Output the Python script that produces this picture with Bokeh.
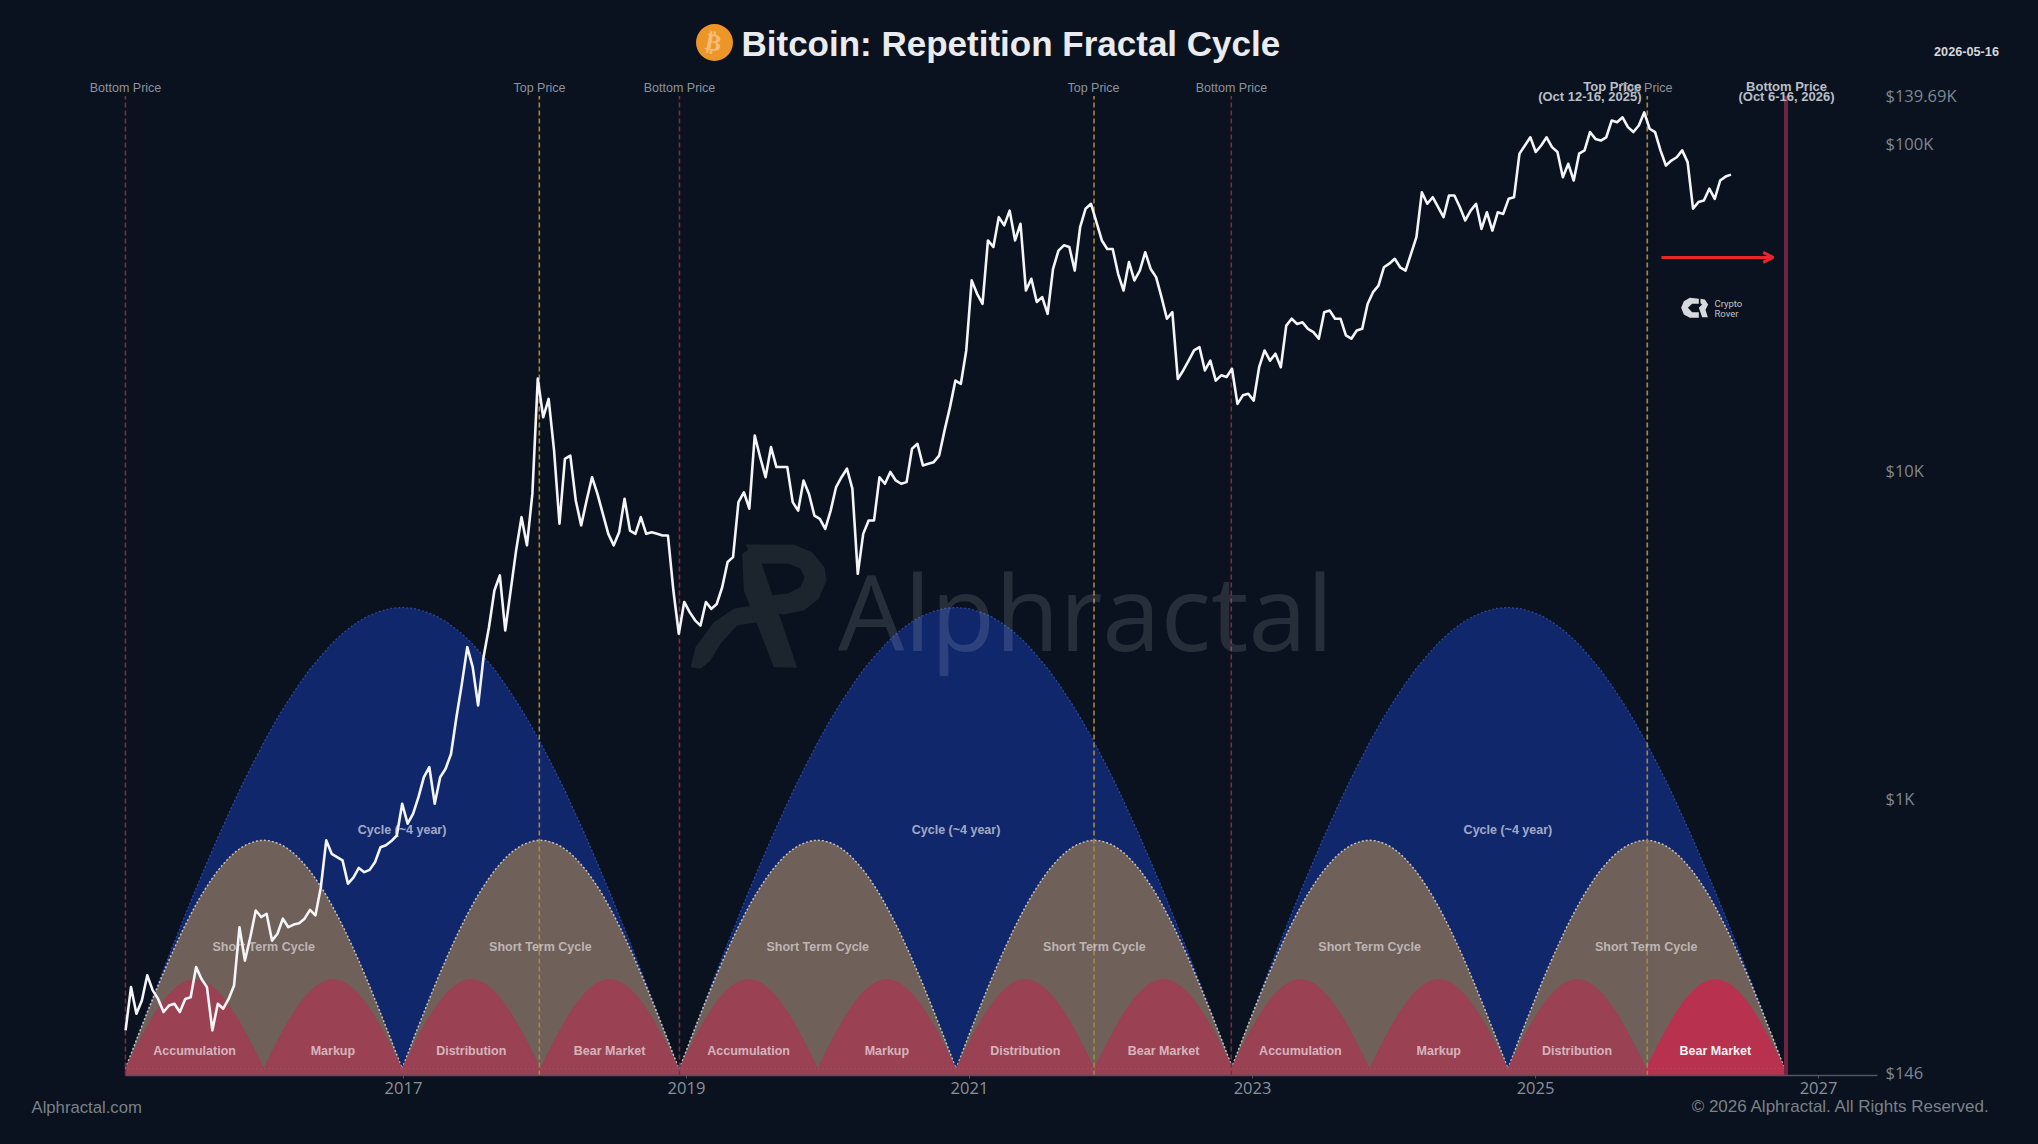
import numpy as np
from bokeh.plotting import figure
from bokeh.models import Range1d, LinearScale, FixedTicker, Label, Arrow, OpenHead, PolyAnnotation
from bokeh.core.properties import value
from bokeh.embed import file_html
from bokeh.resources import INLINE

# ---------- data ----------
year_ticks = [2017, 2019, 2021, 2023, 2025, 2027]
price_ticks = [146, 1000, 10000, 100000, 139690]
price_tick_labels = ["$146", "$1K", "$10K", "$100K", "$139.69K"]

bottom_years = [2015.035, 2018.95, 2022.85]
top_years = [2017.96, 2021.88, 2025.79]
final_bottom_year = 2026.77
cycle_starts = [2015.035, 2018.95, 2022.85]
cycle_length = 3.91
short_height = 0.495
phase_height = 0.193
phase_names = ["Accumulation", "Markup", "Distribution", "Bear Market"]

# rising half of a cycle dome, as a share of its height
dome_half_profile = [0, .065, .131, .195, .259, .321, .383, .442, .5, .555, .609, .659, .707,
                     .752, .793, .831, .866, .896, .924, .947, .966, .981, .991, .998, 1]

# BTC price, log10 of USD, one reading every 14 days from mid January 2015
btc_start_year = 2015.036
btc_log10_2015_16 = [
    2.292, 2.424, 2.343, 2.383, 2.460, 2.414, 2.388, 2.348, 2.368, 2.373, 2.348, 2.388, 2.393, 2.485,
    2.449, 2.424, 2.292, 2.373, 2.358, 2.388, 2.429, 2.607, 2.505, 2.577, 2.658, 2.638, 2.648, 2.566,
    2.587, 2.633, 2.607, 2.615, 2.619, 2.633, 2.660, 2.643, 2.729, 2.872, 2.831, 2.821, 2.811, 2.740,
    2.758, 2.788, 2.775, 2.782, 2.806, 2.851, 2.857, 2.870, 2.887, 2.984, 2.923, 2.953]
btc_log10_2017_18 = [
    3.004, 3.065, 3.096, 2.984, 3.065, 3.091, 3.136, 3.248, 3.350, 3.462, 3.401, 3.284, 3.432, 3.523,
    3.635, 3.681, 3.513, 3.635, 3.757, 3.859, 3.773, 3.930, 4.282, 4.164, 4.220, 4.063, 3.839, 4.037,
    4.047, 3.910, 3.834, 3.910, 3.981, 3.930, 3.869, 3.808, 3.773, 3.813, 3.915, 3.818, 3.808, 3.859,
    3.808, 3.813, 3.808, 3.803, 3.803, 3.635, 3.503, 3.600, 3.569, 3.544, 3.528]
btc_log10_2019_21 = [
    3.600, 3.579, 3.594, 3.645, 3.722, 3.737, 3.905, 3.935, 3.885, 4.108, 4.042, 3.981, 4.073, 4.012,
    4.012, 4.012, 3.905, 3.879, 3.971, 3.930, 3.864, 3.854, 3.823, 3.879, 3.951, 3.981, 4.007, 3.946,
    3.686, 3.808, 3.849, 3.849, 3.981, 3.961, 3.997, 3.971, 3.961, 3.966, 4.068, 4.083, 4.017, 4.022,
    4.027, 4.047, 4.124, 4.195, 4.276, 4.266, 4.368, 4.582, 4.541, 4.510, 4.704, 4.684, 4.775, 4.750,
    4.795, 4.704, 4.755, 4.551, 4.587, 4.516, 4.531, 4.480, 4.617, 4.673, 4.689, 4.684, 4.612, 4.745,
    4.801]
btc_log10_2022_23 = [
    4.816, 4.760, 4.704, 4.678, 4.678, 4.602, 4.551, 4.638, 4.582, 4.612, 4.668, 4.617, 4.592, 4.531,
    4.465, 4.485, 4.281, 4.307, 4.337, 4.368, 4.378, 4.307, 4.337, 4.276, 4.292, 4.287, 4.312, 4.205,
    4.231, 4.236, 4.215, 4.317, 4.368, 4.337, 4.358, 4.317, 4.444, 4.465, 4.449, 4.454, 4.434, 4.424,
    4.404, 4.485, 4.490, 4.465, 4.465, 4.414, 4.404, 4.429, 4.434, 4.510, 4.546]
btc_log10_2024_26 = [
    4.566, 4.622, 4.633, 4.648, 4.622, 4.612, 4.663, 4.714, 4.851, 4.816, 4.836, 4.806, 4.775, 4.841,
    4.841, 4.806, 4.765, 4.795, 4.816, 4.739, 4.790, 4.734, 4.790, 4.785, 4.831, 4.836, 4.969, 4.994,
    5.019, 4.974, 4.994, 5.019, 4.989, 4.974, 4.897, 4.938, 4.887, 4.969, 4.979, 5.035, 5.014, 5.009,
    5.019, 5.070, 5.065, 5.080, 5.050, 5.035, 5.055, 5.095, 5.045, 5.035, 4.979, 4.933, 4.948, 4.958,
    4.979, 4.943, 4.801, 4.821, 4.826, 4.862, 4.831, 4.887, 4.899, 4.905]

# ---------- derived ----------
btc_log10 = btc_log10_2015_16 + btc_log10_2017_18 + btc_log10_2019_21 + btc_log10_2022_23 + btc_log10_2024_26
btc_price = 10 ** np.array(btc_log10)
btc_year = btc_start_year + np.arange(len(btc_price)) * 14 / 365.25

profile = np.array(dome_half_profile + dome_half_profile[-2::-1])
phase = np.linspace(0, 1, len(profile))

def dome(start, length, height):
    return list(start + phase * length), list(profile * height)

BG = "#09121e"
p = figure(width=2038, height=1144, output_backend="svg", toolbar_location=None, tools="",
           x_range=Range1d(2014.152, 2027.417), y_range=Range1d(142.6, 273300),
           y_axis_type="log", y_axis_location="right",
           min_border_left=0, min_border_right=161, min_border_top=0, min_border_bottom=69,
           background_fill_color=None, border_fill_color=None, outline_line_color=None,
           styles={"background-color": BG})
p.extra_y_ranges = {"dome": Range1d(-0.0152, 2.3167)}
p.extra_y_scales = {"dome": LinearScale()}
p.grid.visible = False

AX = "Open Sans"
p.xaxis.ticker = FixedTicker(ticks=year_ticks)
p.xaxis.bounds = (cycle_starts[0], 2027.417)
p.xaxis.axis_line_color = "#4e5661"
p.xaxis.axis_line_width = 1.5
p.xaxis.major_tick_line_color = "#4e5661"
p.xaxis.major_tick_in = 0
p.xaxis.major_tick_out = 3
p.xaxis.minor_tick_line_color = None
p.xaxis.major_label_text_font = AX
p.xaxis.major_label_text_font_size = "16.5px"
p.xaxis.major_label_text_color = "#8b9199"
p.xaxis.major_label_standoff = 3

p.yaxis.ticker = FixedTicker(ticks=price_ticks)
p.yaxis.major_label_overrides = dict(zip(price_ticks, price_tick_labels))
p.yaxis.axis_line_color = None
p.yaxis.major_tick_line_color = None
p.yaxis.major_tick_in = 0
p.yaxis.major_tick_out = 0
p.yaxis.minor_tick_line_color = None
p.yaxis.major_label_text_font = AX
p.yaxis.major_label_text_font_size = "16.5px"
p.yaxis.major_label_text_color = "#7f8690"
p.yaxis.major_label_standoff = 8

# cycle domes
big = [dome(s, cycle_length, 1.0) for s in cycle_starts]
p.patches([b[0] for b in big], [b[1] for b in big], y_range_name="dome",
          fill_color="#11276c", line_color="#2c4a9c", line_width=1.2, line_dash="2 2")

shorts = [dome(s + i * cycle_length / 2, cycle_length / 2, short_height)
          for s in cycle_starts for i in range(2)]
p.patches([b[0] for b in shorts], [b[1] for b in shorts], y_range_name="dome",
          fill_color="#6f605a", line_color="#c8c0b8", line_width=1.5, line_dash="2 2")

small_starts = [s + i * cycle_length / 4 for s in cycle_starts for i in range(4)]
small = [dome(s, cycle_length / 4, phase_height) for s in small_starts]
small_colors = ["#9a4154"] * 11 + ["#b8324f"]
p.patches([b[0] for b in small], [b[1] for b in small], y_range_name="dome",
          fill_color=small_colors, line_color=small_colors, line_width=0.5)

# foot strip below the domes
p.quad(left=[cycle_starts[0], small_starts[-1]], right=[small_starts[-1], small_starts[-1] + cycle_length / 4],
       bottom=[-0.0152, -0.0152], top=[0, 0], y_range_name="dome",
       fill_color=["#9a4154", "#b8324f"], line_color=None)

# vertical markers
low = 142.6
high = price_ticks[-1]
p.segment(bottom_years, [low] * 3, bottom_years, [high] * 3, line_color="#7d2a45", line_width=1.6, line_dash="5 3")
p.segment(top_years, [low] * 3, top_years, [high] * 3, line_color="#a9873f", line_width=1.6, line_dash="5 3")
p.segment([final_bottom_year], [low], [final_bottom_year], [high], line_color="#6f2442", line_width=4)

# texts on the domes
BOLD = value("Liberation Sans")
p.text(x=[s + cycle_length / 2 for s in cycle_starts], y=[0.517] * 3, text=["Cycle (~4 year)"] * 3,
       y_range_name="dome", text_font=BOLD, text_font_style="bold", text_font_size="12.5px",
       text_color="#ffffff", text_alpha=0.62, text_align="center", text_baseline="middle")
short_centres = [s + (i + 0.5) * cycle_length / 2 for s in cycle_starts for i in range(2)]
p.text(x=short_centres, y=[0.264] * 6, text=["Short Term Cycle"] * 6,
       y_range_name="dome", text_font=BOLD, text_font_style="bold", text_font_size="12.5px",
       text_color="#ffffff", text_alpha=0.55, text_align="center", text_baseline="middle")
phase_centres = [s + cycle_length / 8 for s in small_starts]
p.text(x=phase_centres, y=[0.039] * 12, text=phase_names * 3,
       y_range_name="dome", text_font=BOLD, text_font_style="bold", text_font_size="12.5px",
       text_color="#ffffff", text_alpha=[0.62] * 11 + [0.95], text_align="center", text_baseline="middle")

# watermark
p.text(x=[2020.07], y=[3750], text=["Alphractal"], text_font=value("Open Sans"), text_font_size="105px",
       text_color="#ffffff", text_alpha=0.12, text_align="left", text_baseline="middle")

def shape(zoom_pts, ox, oy, color):
    xs = [ox + a / 3 for a, b in zoom_pts]
    ys = [1075 - (oy + b / 3) for a, b in zoom_pts]
    p.add_layout(PolyAnnotation(xs=xs, ys=ys, xs_units="screen", ys_units="screen", fill_color=color,
                                fill_alpha=1, line_color=None, level="underlay"))

LOGO = "#1c242e"
shape([(195, 42), (340, 42), (395, 65), (432, 110), (438, 150), (415, 205), (370, 240), (310, 252), (280, 248),
       (262, 195), (320, 190), (360, 170), (372, 140), (360, 115), (325, 100), (225, 100)], 680, 530, LOGO)
shape([(185, 70), (225, 45), (350, 412), (280, 410), (190, 180)], 680, 530, LOGO)
shape([(30, 410), (45, 350), (100, 275), (160, 235), (215, 225), (232, 275), (170, 285), (120, 340), (90, 390),
       (60, 415)], 680, 530, LOGO)

CR = "#d7d9dc"
shape([(985, 595), (958, 592), (940, 602), (932, 622), (940, 642), (958, 652), (985, 652), (985, 635), (965, 635),
       (952, 622), (965, 610), (985, 610)], 1370, 100, CR)
shape([(990, 595), (1003, 597), (1013, 612), (1005, 628), (1012, 650), (995, 650), (985, 622), (995, 612),
       (990, 608)], 1370, 100, CR)

# price
p.line(btc_year, btc_price, line_color="#f4f5f6", line_width=2.6, line_join="round")

# coin
p.scatter([2019.198], [203400], size=37, marker="circle", fill_color="#ee9528", line_color=None)

p.add_layout(Arrow(end=OpenHead(size=10, line_color="#e8262a", line_width=3), x_start=2025.89, y_start=44900,
                   x_end=2026.68, y_end=44900, line_color="#e8262a", line_width=3))

def L(text, px, py, size, color, font="Liberation Sans", style="normal", align="center", baseline="middle", angle=0):
    p.add_layout(Label(x=px, y=1075 - py, x_units="screen", y_units="screen", text=text,
                       text_font=font, text_font_size=f"{size}px", text_font_style=style, text_color=color,
                       text_align=align, text_baseline=baseline, angle=angle))

L("Bitcoin: Repetition Fractal Cycle", 741, 43, 35, "#e9ebee", style="bold", align="left")
L("\u20bf", 713, 42, 24, "#f6bd78", font="DejaVu Sans", style="bold", angle=-0.2)

for px, t in [(125, "Bottom Price"), (539, "Top Price"), (679, "Bottom Price"), (1093, "Top Price"),
              (1231, "Bottom Price"), (1646, "Top Price")]:
    L(t, px, 87.5, 12.5, "#8d939c")

L("Top Price", 1641, 86, 13, "#b9bec6", style="bold", align="right")
L("(Oct 12-16, 2025)", 1641, 95.6, 13, "#b9bec6", style="bold", align="right")
L("Bottom Price", 1786, 86, 13, "#b9bec6", style="bold")
L("(Oct 6-16, 2026)", 1786, 95.6, 13, "#b9bec6", style="bold")

L("Crypto", 1714, 303, 9.5, "#c0c4c8", font="Roboto", align="left")
L("Rover", 1714, 312.5, 9.5, "#c0c4c8", font="Roboto", align="left")

# texts outside the frame live in the side panels, which are not clipped to it
p.add_layout(Label(x=7, y=1024, x_units="screen", y_units="screen", text="2026-05-16",
                   text_font="Liberation Sans", text_font_size="12.7px", text_font_style="bold",
                   text_color="#d5d8dc", text_align="center", text_baseline="middle"), "right")
p.add_layout(Label(x=31, y=8.5, x_units="screen", y_units="screen", text="Alphractal.com",
                   text_font="Liberation Sans", text_font_size="16.7px", text_color="#7b8189",
                   text_align="left", text_baseline="middle"), "below")
p.add_layout(Label(x=1990, y=28.5, x_units="screen", y_units="screen",
                   text="\u00a9 2026 Alphractal. All Rights Reserved.",
                   text_font="Liberation Sans", text_font_size="17px", text_color="#7b8189",
                   text_align="right", text_baseline="middle"), "below")

html = file_html(p, INLINE)
html = html.replace("<head>", f"<head><style>html,body{{margin:0;padding:0;overflow:hidden;background:{BG}}}</style>", 1)
open("out.html", "w").write(html)
